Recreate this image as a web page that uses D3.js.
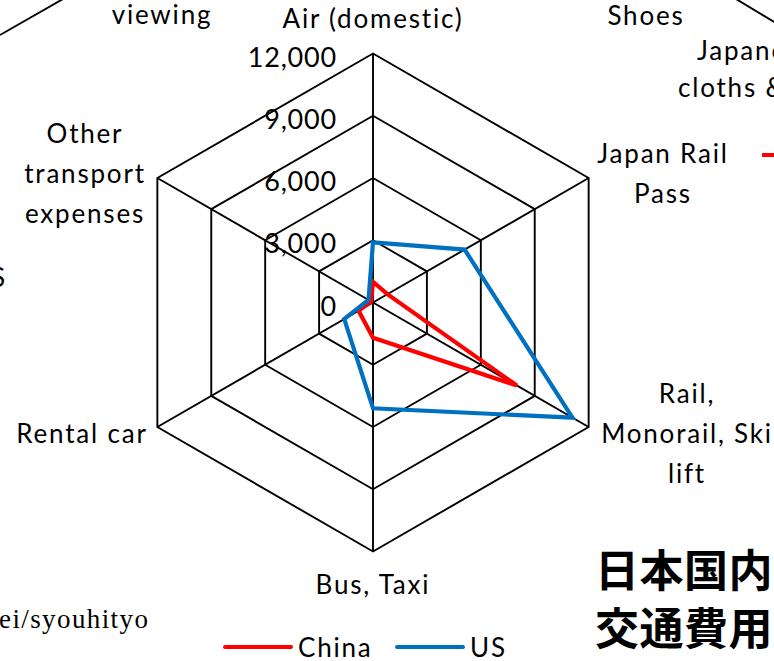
<!DOCTYPE html>
<html>
<head>
<meta charset="utf-8">
<script src="https://cdn.jsdelivr.net/npm/d3@7"></script>
<style>
  body { margin: 0; background: #fff; }
  svg { display: block; }
  text { font-family: Lato, "Open Sans", sans-serif; fill: #000; }
</style>
</head>
<body>
<div id="radarFrame"></div>
<script>
const axes = [
  ['Air (domestic)'],
  ['Japan Rail', 'Pass'],
  ['Rail,', 'Monorail, Ski', 'lift'],
  ['Bus, Taxi'],
  ['Rental car'],
  ['Other', 'transport', 'expenses']
]
const china = [1000, 800, 8000, 1700, 800, 100]
const us = [2900, 5100, 11100, 5100, 1600, 250]
const ticks = [0, 3000, 6000, 9000, 12000]
const seriesNames = ['China', 'US']
const seriesColors = ['#ff0000', '#0070c0']

const width = 774
const height = 661
const cx = 373
const cy = 302.5
const radius = 249
const labelFont = '26px'
const labelSpacing = '1.8px'

// label anchors: centre x and baseline of the first line
const labelPos = [
  {x: 373, y: 28},
  {x: 663, y: 163},
  {x: 687, y: 403},
  {x: 373, y: 594},
  {x: 82, y: 443},
  {x: 85, y: 143}
]
const lineGap = 40

let svg = d3.select('#radarFrame')
  .append('svg')
  .attr('width', width)
  .attr('height', height)

let r = d3.scaleLinear().domain([0, 12000]).range([0, radius])
let angle = i => i * Math.PI * 2 / axes.length
let px = (i, v) => cx + r(v) * Math.sin(angle(i))
let py = (i, v) => cy - r(v) * Math.cos(angle(i))

let addText = function (g, x, y, str, anchor) {
  return g.append('text')
    .attr('x', x).attr('y', y)
    .attr('text-anchor', anchor || 'start')
    .style('font-size', labelFont)
    .style('letter-spacing', labelSpacing)
    .text(str)
}

// fragments of the neighbouring charts that are cut by the frame
let neighbours = svg.append('g')
neighbours.append('line').attr('x1', 0).attr('y1', 35).attr('x2', 63).attr('y2', -1)
  .attr('stroke', '#000').attr('stroke-width', 1.9)
neighbours.append('line').attr('x1', 736).attr('y1', -1).attr('x2', 776).attr('y2', 23)
  .attr('stroke', '#000').attr('stroke-width', 1.9)
addText(neighbours, 162, 24, 'viewing', 'middle')
addText(neighbours, 646, 25, 'Shoes', 'middle')
addText(neighbours, 697, 60, 'Japanese')
addText(neighbours, 678, 97, 'cloths &')
neighbours.append('line').attr('x1', 762).attr('y1', 155).attr('x2', 790).attr('y2', 155)
  .attr('stroke', '#ff0000').attr('stroke-width', 4)
addText(neighbours, -9, 287, 'S')
neighbours.append('text').attr('x', -1).attr('y', 628)
  .style('font-family', '"Liberation Serif", "DejaVu Serif", serif')
  .style('font-size', '27px')
  .style('letter-spacing', '1.4px')
  .text('ei/syouhityo')
;[['日本国内', 587], ['交通費用', 645]].forEach(d => {
  neighbours.append('text').attr('x', 595).attr('y', d[1])
    .style('font-family', '"Noto Sans CJK JP", sans-serif')
    .style('font-weight', 'bold')
    .style('font-size', '44px')
    .style('letter-spacing', '0.5px')
    .text(d[0])
})

// grid rings
let grid = svg.append('g')
ticks.filter(t => t > 0).forEach(t => {
  let pts = axes.map((a, i) => [px(i, t), py(i, t)])
  grid.append('polygon')
    .attr('points', pts.map(p => p.join(',')).join(' '))
    .attr('fill', 'none')
    .attr('stroke', '#000')
    .attr('stroke-width', 1.9)
})
axes.forEach((a, i) => {
  grid.append('line')
    .attr('x1', cx).attr('y1', cy)
    .attr('x2', px(i, 12000)).attr('y2', py(i, 12000))
    .attr('stroke', '#000')
    .attr('stroke-width', 1.9)
})

// tick labels
svg.append('g').selectAll('text')
  .data(ticks)
  .enter()
  .append('text')
  .attr('x', cx - 36)
  .attr('y', d => cy - r(d) + 13)
  .attr('text-anchor', 'end')
  .style('font-size', '27px')
  .style('letter-spacing', '0.8px')
  .text(d => d3.format(',')(d))

// axis labels
axes.forEach((lines, i) => {
  let pos = labelPos[i]
  let t = svg.append('text')
    .attr('text-anchor', 'middle')
    .style('font-size', labelFont)
    .style('letter-spacing', labelSpacing)
  lines.forEach((l, k) => {
    t.append('tspan')
      .attr('x', pos.x)
      .attr('y', pos.y + k * lineGap)
      .text(l)
  })
})

// series
let line = d3.line().curve(d3.curveLinearClosed)
;[china, us].forEach((s, k) => {
  svg.append('path')
    .datum(s.map((v, i) => [px(i, v), py(i, v)]))
    .attr('d', line)
    .attr('fill', 'none')
    .attr('stroke', seriesColors[k])
    .attr('stroke-width', 4.2)
})

// legend
let legend = svg.append('g')
let legendX = [225, 397]
seriesNames.forEach((name, k) => {
  legend.append('line')
    .attr('x1', legendX[k]).attr('y1', 647)
    .attr('x2', legendX[k] + 66).attr('y2', 647)
    .attr('stroke', seriesColors[k])
    .attr('stroke-width', 4)
    .attr('stroke-linecap', 'round')
  addText(legend, legendX[k] + 73, 657, name)
})
</script>
</body>
</html>
